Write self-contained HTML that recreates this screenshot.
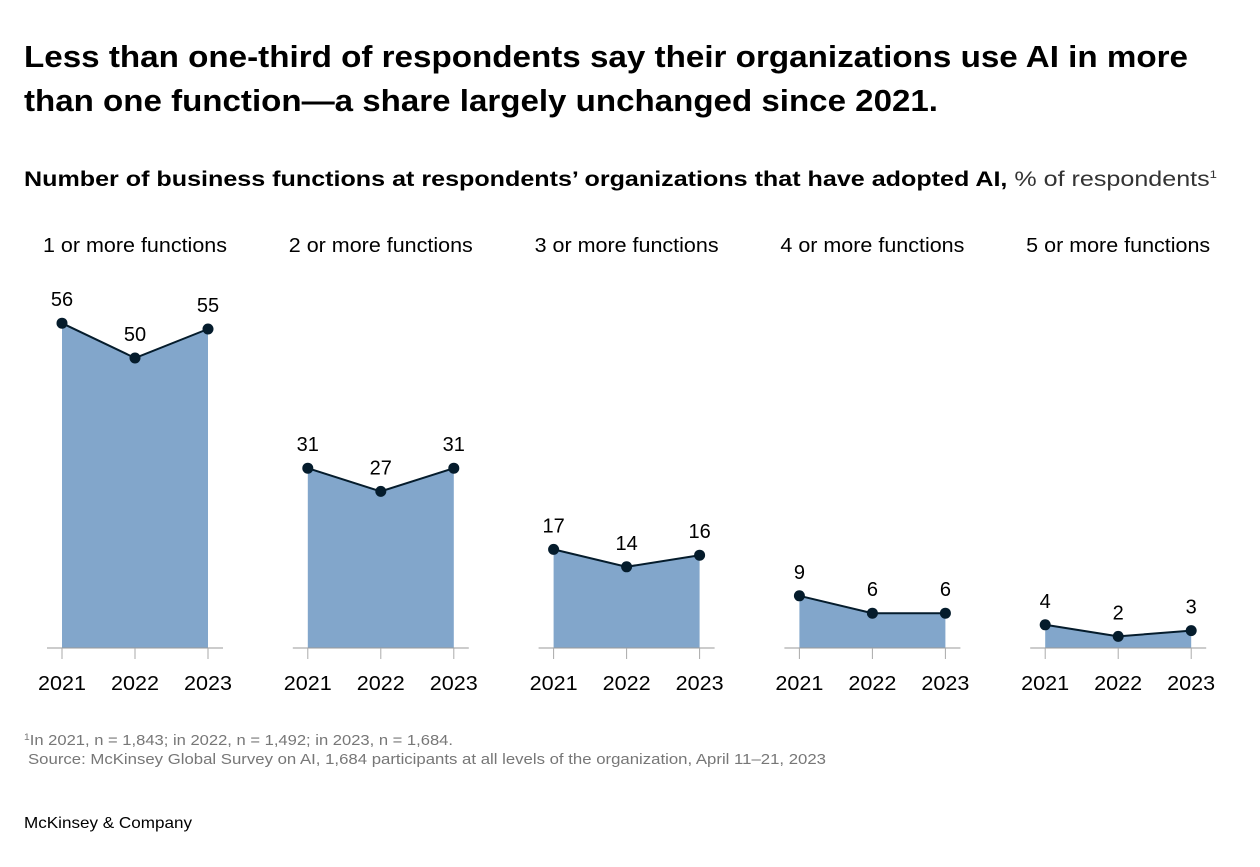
<!DOCTYPE html>
<html><head><meta charset="utf-8"><style>
body{margin:0;background:#fff;width:1260px;height:862px;overflow:hidden;font-family:"Liberation Sans",sans-serif;color:#000}
</style></head><body>
<svg width="1260" height="862" xmlns="http://www.w3.org/2000/svg">
<text x="24" y="67" font-size="31" font-weight="bold" textLength="1164" lengthAdjust="spacingAndGlyphs">Less than one-third of respondents say their organizations use AI in more</text>
<text x="24" y="111" font-size="31" font-weight="bold" textLength="914" lengthAdjust="spacingAndGlyphs">than one function—a share largely unchanged since 2021.</text>
<text x="24" y="186" font-size="21" textLength="1193" lengthAdjust="spacingAndGlyphs"><tspan font-weight="bold">Number of business functions at respondents’ organizations that have adopted AI,</tspan><tspan fill="#333"> % of respondents</tspan><tspan font-size="11" dy="-8" fill="#333">1</tspan></text>
<g id="panels"></g>
<text x="24" y="745" font-size="14.5" fill="#777" textLength="429" lengthAdjust="spacingAndGlyphs"><tspan font-size="9" dy="-5">1</tspan><tspan dy="5">In 2021, n = 1,843; in 2022, n = 1,492; in 2023, n = 1,684.</tspan></text>
<text x="28" y="764" font-size="14.5" fill="#777" textLength="798" lengthAdjust="spacingAndGlyphs">Source: McKinsey Global Survey on AI, 1,684 participants at all levels of the organization, April 11–21, 2023</text>
<text x="24" y="828" font-size="16" textLength="168" lengthAdjust="spacingAndGlyphs">McKinsey &amp; Company</text>
</svg>
<script>
const panelTitles=["1 or more functions","2 or more functions","3 or more functions","4 or more functions","5 or more functions"];
const years=["2021","2022","2023"];
const values=[[56,50,55],[31,27,31],[17,14,16],[9,6,6],[4,2,3]];
const NS="http://www.w3.org/2000/svg";
const g=document.getElementById("panels");
const base=648, scale=5.8;
function y(v){return base-v*scale;}
function x(p,i){return 62+p*245.8+i*73;}
function mk(tag,attrs,parent){const e=document.createElementNS(NS,tag);for(const k in attrs)e.setAttribute(k,attrs[k]);(parent||g).appendChild(e);return e;}
values.forEach((vals,p)=>{
  const pg=mk("g",{});
  
  
  const cx=x(p,1);
  const t=mk("text",{x:cx,y:252,"font-size":20,"text-anchor":"middle",textLength:184,lengthAdjust:"spacingAndGlyphs"},pg);t.textContent=panelTitles[p];
  
  
  let d="M"+x(p,0)+","+base;
  vals.forEach((v,i)=>d+=" L"+x(p,i)+","+y(v));
  d+=" L"+x(p,2)+","+base+" Z";
  const a=mk("path",{d:d,fill:"#82a6cb"},pg);
  
  
  const ax=mk("line",{x1:x(p,0)-15,x2:x(p,2)+15,y1:base,y2:base,stroke:"#999","stroke-width":1},pg);
  
  
  const ln=mk("polyline",{points:vals.map((v,i)=>x(p,i)+","+y(v)).join(" "),fill:"none",stroke:"#051c2c","stroke-width":2},pg);
  
  
  vals.forEach((v,i)=>{
    const tk=mk("line",{x1:x(p,i),x2:x(p,i),y1:base,y2:base+11,stroke:"#aaa","stroke-width":1},pg);
    
    
    const c=mk("circle",{cx:x(p,i),cy:y(v),r:5.5,fill:"#051c2c"},pg);
    
    
    const l=mk("text",{x:x(p,i),y:y(v)-17,"font-size":20,"text-anchor":"middle"},pg);l.textContent=v;
    
    
    const yl=mk("text",{x:x(p,i),y:690,"font-size":20,"text-anchor":"middle",textLength:48,lengthAdjust:"spacingAndGlyphs"},pg);yl.textContent=years[i];
    
    
  });
});
</script>
</body></html>
